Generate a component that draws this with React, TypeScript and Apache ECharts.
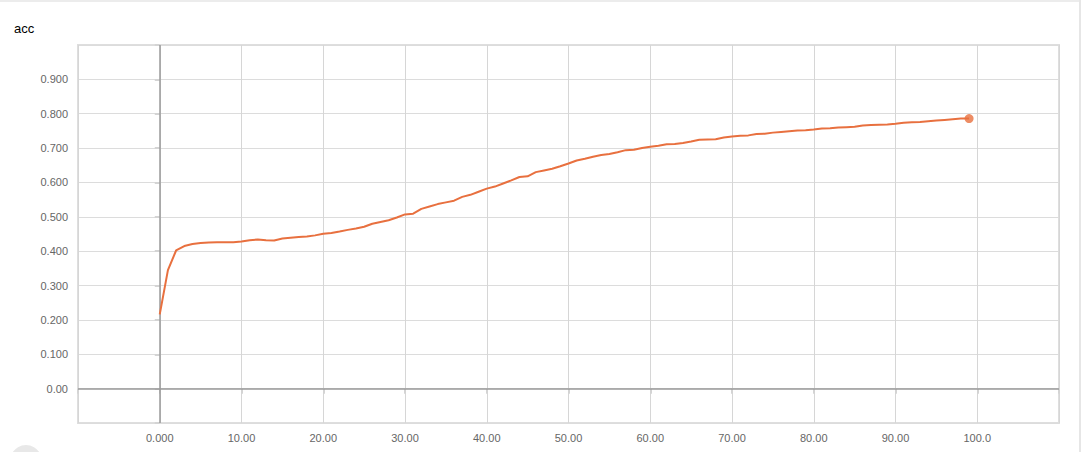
import React, { useEffect, useRef } from "react";
import * as echarts from "echarts";

const chartTitle = "acc";
const steps: number[] = Array.from({ length: 100 }, (_, i) => i);
const accValues: number[] = [
  0.216, 0.345, 0.402, 0.415, 0.421, 0.424, 0.425, 0.426, 0.426, 0.426,
  0.428, 0.432, 0.434, 0.432, 0.431, 0.437, 0.439, 0.441, 0.443, 0.446,
  0.451, 0.453, 0.457, 0.462, 0.466, 0.471, 0.48, 0.485, 0.49, 0.498,
  0.507, 0.509, 0.523, 0.53, 0.537, 0.542, 0.547, 0.558, 0.564, 0.573,
  0.582, 0.588, 0.597, 0.606, 0.616, 0.618, 0.63, 0.635, 0.64, 0.647,
  0.655, 0.664, 0.669, 0.675, 0.68, 0.683, 0.688, 0.694, 0.695, 0.7,
  0.704, 0.707, 0.711, 0.712, 0.715, 0.719, 0.724, 0.725, 0.726, 0.731,
  0.734, 0.736, 0.737, 0.741, 0.742, 0.745, 0.747, 0.749, 0.751, 0.752,
  0.754, 0.757, 0.758, 0.76, 0.761, 0.762, 0.766, 0.767, 0.768, 0.769,
  0.771, 0.774, 0.775, 0.776, 0.778, 0.78, 0.782, 0.784, 0.786, 0.786,
];
const xMin = -10;
const xMax = 110;
const xStep = 10;
const yMin = -0.1;
const yMax = 1.0;
const yStep = 0.1;

const lineColor = "#e8703f";

export default function App() {
  const ref = useRef<HTMLDivElement>(null);
  useEffect(() => {
    if (!ref.current) return;
    const chart = echarts.init(ref.current, undefined, { renderer: "svg" });
    const seriesData = steps.map((s, i) => [s, accValues[i]]);
    const last = seriesData[seriesData.length - 1];
    const fmtX = (v: number) =>
      v < 0 || v > 100 ? "" : Number(v.toFixed(6)).toPrecision(4);
    const fmtY = (v: number) => {
      const r = Math.round(v * 1000) / 1000;
      return r < 0 || r > 0.95 ? "" : r.toPrecision(3);
    };
    chart.setOption({
      animation: false,
      title: {
        text: chartTitle,
        left: 9,
        top: 17,
        textStyle: {
          fontSize: 13,
          fontWeight: "normal",
          color: "#000",
          fontFamily: "Liberation Sans, Arial, sans-serif",
        },
      },
      graphic: [
        { type: "rect", shape: { x: 0, y: 0, width: 1081, height: 2 }, style: { fill: "#ececec" }, silent: true },
        { type: "rect", shape: { x: 1079, y: 0, width: 2, height: 452 }, style: { fill: "#e6e6e6" }, silent: true },
        { type: "circle", shape: { cx: 26, cy: 461, r: 16 }, style: { fill: "#e8e8e8" }, silent: true },
      ],
      grid: {
        left: 78,
        right: 22,
        top: 45,
        bottom: 29,
        show: true,
        borderColor: "#dedede",
        borderWidth: 2,
      },
      xAxis: {
        type: "value",
        min: xMin,
        max: xMax,
        interval: xStep,
        axisLine: { show: false },
        axisTick: { show: true, length: 5, lineStyle: { color: "#d4d4d4", width: 2 } },
        splitLine: { show: true, lineStyle: { color: "#d6d6d6", width: 1 } },
        axisLabel: {
          formatter: fmtX,
          color: "#666",
          fontSize: 11,
          margin: 9,
          fontFamily: "Liberation Sans, Arial, sans-serif",
          showMinLabel: true,
          showMaxLabel: true,
        },
      },
      yAxis: {
        type: "value",
        min: yMin,
        max: yMax,
        interval: yStep,
        axisLine: { show: false },
        axisTick: { show: true, length: 5, lineStyle: { color: "#d4d4d4", width: 2 } },
        splitLine: { show: true, lineStyle: { color: "#dcdcdc", width: 1 } },
        axisLabel: {
          formatter: fmtY,
          color: "#666",
          fontSize: 11,
          margin: 10,
          fontFamily: "Liberation Sans, Arial, sans-serif",
          showMinLabel: true,
          showMaxLabel: true,
        },
      },
      series: [
        {
          type: "line",
          data: seriesData,
          showSymbol: false,
          symbol: "none",
          lineStyle: { color: lineColor, width: 2 },
          itemStyle: { color: lineColor },
          z: 3,
          markLine: {
            silent: true,
            symbol: "none",
            label: { show: false },
            lineStyle: { color: "#9a9a9a", width: 1.5, type: "solid" },
            data: [{ xAxis: 0 }, { yAxis: 0 }],
            z: 2,
          },
        },
        {
          type: "scatter",
          data: [last],
          symbol: "circle",
          symbolSize: 9,
          itemStyle: { color: lineColor },
          z: 4,
        },
      ],
    });
    return () => chart.dispose();
  }, []);
  return (
    <div
      ref={ref}
      style={{ position: "absolute", left: 0, top: 0, width: 1081, height: 452, background: "#fff" }}
    />
  );
}
